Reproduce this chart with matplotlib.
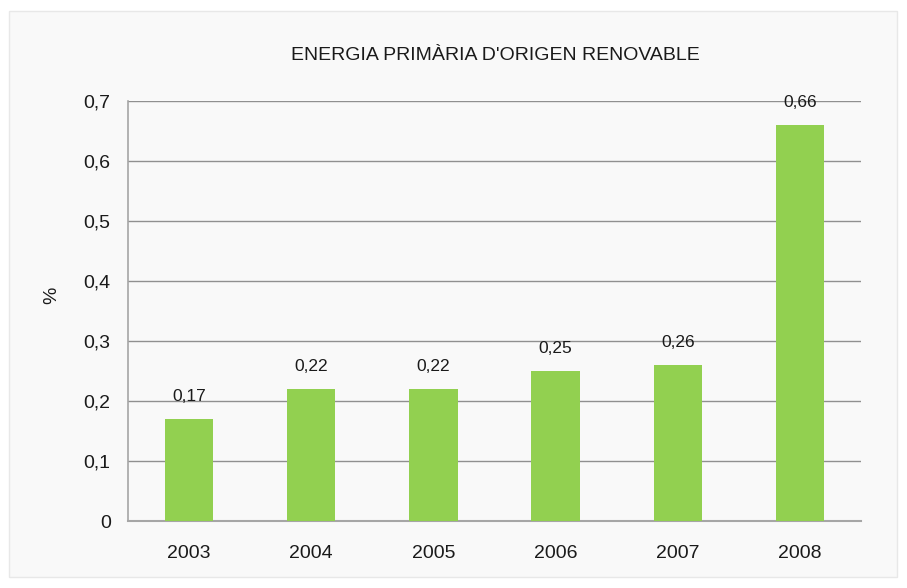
import matplotlib
matplotlib.use("Agg")
import matplotlib.pyplot as plt
from matplotlib.patches import Rectangle

years = ["2003", "2004", "2005", "2006", "2007", "2008"]
values = [0.17, 0.22, 0.22, 0.25, 0.26, 0.66]
value_labels = ["0,17", "0,22", "0,22", "0,25", "0,26", "0,66"]
yticks = [0, 0.1, 0.2, 0.3, 0.4, 0.5, 0.6, 0.7]
ytick_labels = ["0", "0,1", "0,2", "0,3", "0,4", "0,5", "0,6", "0,7"]

plt.rcParams['font.family'] = ['Liberation Sans', 'DejaVu Sans']

W, H = 907, 588
fig = plt.figure(figsize=(W / 100, H / 100), dpi=100, facecolor='white')

bg = fig.add_axes([0, 0, 1, 1], zorder=-10)
bg.set_xlim(0, W)
bg.set_ylim(H, 0)
bg.axis('off')
bg.add_patch(Rectangle((9, 11), 897 - 9, 577 - 11, facecolor='#f9f9f9',
                       edgecolor='#e8e8e8', linewidth=1))

ax = fig.add_axes([128 / W, 1 - 521 / H, (861 - 128) / W, (521 - 101) / H])
ax.set_facecolor('none')
x = range(len(years))
ax.bar(x, values, width=0.395, color='#92d050', zorder=3)
for xi, v, lab in zip(x, values, value_labels):
    ax.annotate(lab, (xi, v), xytext=(0, 11), textcoords='offset points',
                ha='center', va='bottom', fontsize=12.5, color='#1a1a1a')

ax.set_xlim(-0.5, len(years) - 0.5)
ax.set_ylim(0, 0.7)
ax.set_yticks(yticks)
ax.set_yticklabels(ytick_labels, fontsize=14)
ax.set_xticks(list(x))
ax.set_xticklabels(years, fontsize=14)
ax.tick_params(axis='both', length=0, colors='#1a1a1a')
ax.tick_params(axis='y', pad=12.5)
ax.tick_params(axis='x', pad=17)
ax.yaxis.grid(True, color='#909090', linewidth=1)
ax.set_axisbelow(True)
for s in ['top', 'right']:
    ax.spines[s].set_visible(False)
ax.spines['left'].set_color('#a6a6a6')
ax.spines['bottom'].set_color('#a6a6a6')
ax.spines['bottom'].set_linewidth(1.5)
ax.spines['left'].set_linewidth(1.2)

fig.text(52 / W, 1 - 295 / H, '%', rotation=90, ha='center', va='center',
         fontsize=14, color='#1a1a1a')

fig.text(495 / W, 1 - 55 / H, "ENERGIA PRIMÀRIA D'ORIGEN RENOVABLE",
         ha='center', va='center', fontsize=14, color='#1a1a1a')

fig.savefig('out.png', dpi=100, facecolor='white')
